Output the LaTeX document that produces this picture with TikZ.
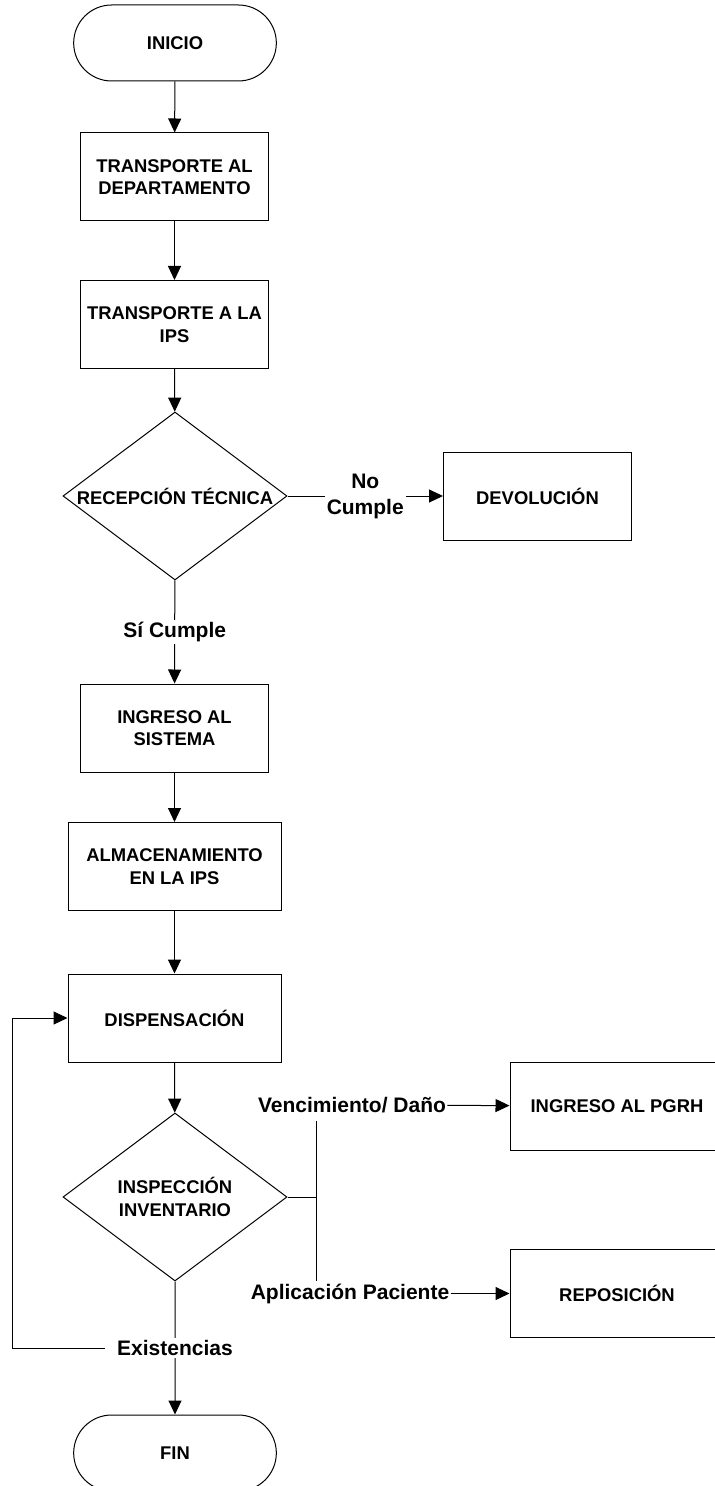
\documentclass[tikz,border=0pt]{standalone}
\usepackage{fontspec}
\setmainfont{Liberation Sans}
\usetikzlibrary{shapes.geometric,shapes.misc,arrows.meta}

\begin{document}
\begin{tikzpicture}[x=0.5pt, y=-0.5pt, line width=0.5pt,
    >={Triangle[length=7pt,width=6.5pt]},
    every node/.style={font=\bfseries\fontsize{9.2}{11.3}\selectfont, align=center},
    process/.style={rectangle,draw,minimum width=94pt,minimum height=44pt,inner sep=2pt},
    wide process/.style={process,minimum width=106.5pt},
    decision/.style={diamond,draw,minimum width=112pt,minimum height=84pt,inner sep=0pt},
    terminal/.style={rounded rectangle,draw,minimum width=108pt,minimum height=38pt},
    cond/.style={font=\bfseries\fontsize{10.5}{13}\selectfont,inner sep=1pt},]

\clip (0,0) rectangle (715,1486);

\node[terminal] (inicio) at (175,43) {INICIO};
\node[process] (depto) at (174.5,177) {TRANSPORTE AL\\DEPARTAMENTO};
\node[process] (ips) at (174.5,324.5) {TRANSPORTE A LA\\IPS};
\node[decision, label=center:RECEPCIÓN TÉCNICA] (recep) at (175,496) {};
\node[process] (devol) at (537.5,496) {DEVOLUCIÓN};
\node[process] (sistema) at (174.5,728) {INGRESO AL\\SISTEMA};
\node[wide process] (almac) at (174.5,866.5) {ALMACENAMIENTO\\EN LA IPS};
\node[wide process] (dispen) at (174.5,1018) {DISPENSACIÓN};
\node[decision, label={center:{INSPECCIÓN\\INVENTARIO}}] (inspec) at (175,1197) {};
\node[process, minimum width=107pt] (pgrh) at (617,1106) {INGRESO AL PGRH};
\node[process, minimum width=107pt] (repos) at (617,1293.5) {REPOSICIÓN};
\node[terminal] (fin) at (175,1453) {FIN};

% salidas de la inspeccion
\node[cond, inner sep=0.5pt] (venc) at (352,1105) {Vencimiento/ Daño};
\node[cond, inner sep=0.5pt] (aplic) at (350,1293.5) {Aplicación Paciente};
\coordinate (forkup) at (316,1121);
\coordinate (forkdn) at (316,1281);
\coordinate (back) at (12,1018);

\path
(inicio) edge [->] (depto)
(depto) edge [->] (ips)
(ips) edge [->] (recep)

(recep) edge [->] node[cond, fill=white] {No\\Cumple} (devol)
(recep) edge [->] node[cond, fill=white] {Sí Cumple} (sistema)

(sistema) edge [->] (almac)
(almac) edge [->] (dispen)
(dispen) edge [->] (inspec)

(inspec) edge [->] node[cond, fill=white, inner xsep=6pt] (exist) {Existencias} (fin)

(venc) edge [->] (pgrh)
(aplic) edge [->] (repos);

\draw (inspec.east) -- (inspec.east -| forkup);
\draw (forkup) -- (forkdn);
\draw[->] (exist.west) -| (back) -- (dispen.west);

\end{tikzpicture}
\end{document}
